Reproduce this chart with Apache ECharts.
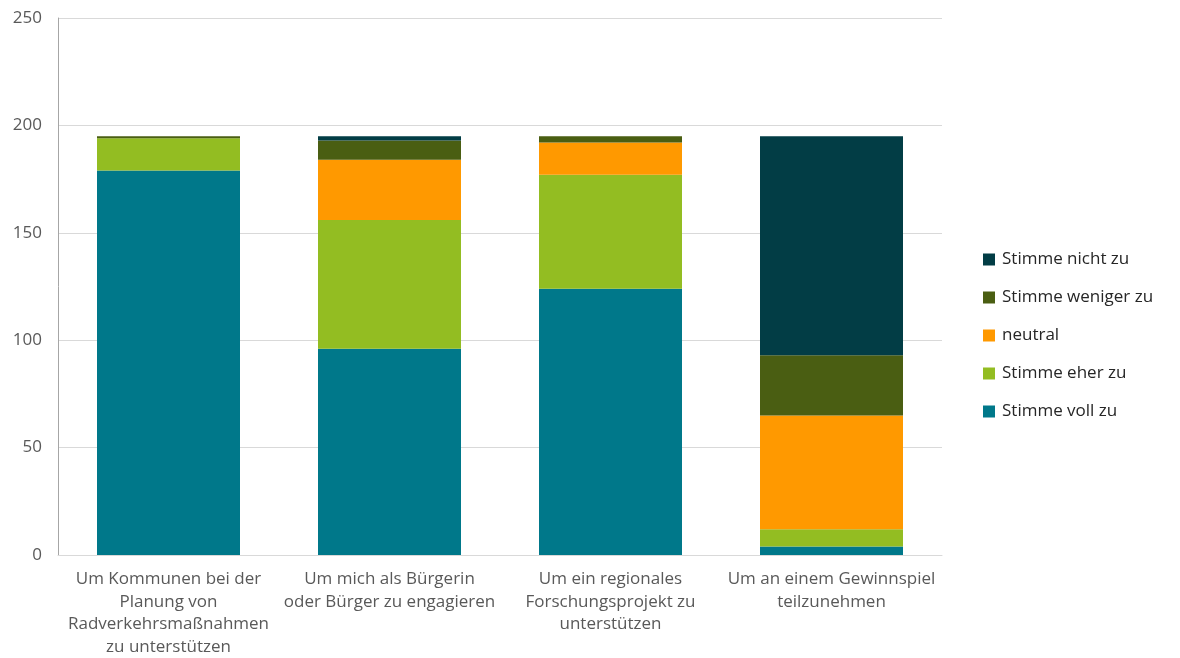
<!DOCTYPE html>
<html>
<head>
<meta charset="utf-8">
<script src="https://cdn.jsdelivr.net/npm/echarts@6/dist/echarts.min.js"></script>
<style>
  html, body { margin: 0; padding: 0; background: #ffffff; }
  #chart { width: 1180px; height: 658px; }
</style>
</head>
<body>
<div id="chart"></div>
<script>
// Motive categories (x axis)
const categories = [
  'Um Kommunen bei der\nPlanung von\nRadverkehrsmaßnahmen\nzu unterstützen',
  'Um mich als Bürgerin\noder Bürger zu engagieren',
  'Um ein regionales\nForschungsprojekt zu\nunterstützen',
  'Um an einem Gewinnspiel\nteilzunehmen'
];

// Answer counts per category, stacked bottom to top
const stimmeVollZu     = [179, 96, 124, 4];
const stimmeEherZu     = [15, 60, 53, 8];
const neutral          = [0, 28, 15, 53];
const stimmeWenigerZu  = [1, 9, 3, 28];
const stimmeNichtZu    = [0, 2, 0, 102];

const yTicks = { min: 0, max: 250, interval: 50 };

const seriesDefs = [
  { name: 'Stimme voll zu',     data: stimmeVollZu,    color: '#00788A' },
  { name: 'Stimme eher zu',     data: stimmeEherZu,    color: '#93BD22' },
  { name: 'neutral',            data: neutral,         color: '#FF9900' },
  { name: 'Stimme weniger zu',  data: stimmeWenigerZu, color: '#4A5E12' },
  { name: 'Stimme nicht zu',    data: stimmeNichtZu,   color: '#023D45' }
];

const chart = echarts.init(document.getElementById('chart'));
const font = '"Open Sans", "Liberation Sans", sans-serif';

chart.setOption({
  animation: false,
  textStyle: { fontFamily: font },
  grid: { left: 58, right: 238, top: 18, bottom: 103, containLabel: false },
  legend: {
    orient: 'vertical',
    left: 978,
    top: 246,
    itemWidth: 12,
    itemHeight: 12,
    itemGap: 21,
    icon: 'rect',
    data: seriesDefs.map(s => s.name).reverse(),
    textStyle: { fontSize: 17, color: '#262626', fontFamily: font, padding: [0, 0, 0, 2] }
  },
  xAxis: {
    type: 'category',
    data: categories,
    axisLine: { lineStyle: { color: '#d9d9d9', width: 1 } },
    axisTick: { show: false },
    axisLabel: {
      interval: 0,
      margin: 13,
      fontSize: 17,
      lineHeight: 22.5,
      color: '#595959',
      fontFamily: font
    }
  },
  yAxis: {
    type: 'value',
    min: yTicks.min,
    max: yTicks.max,
    interval: yTicks.interval,
    axisLine: { show: true, lineStyle: { color: '#a6a6a6', width: 1 } },
    axisTick: { show: false },
    splitLine: { lineStyle: { color: '#d9d9d9', width: 1 } },
    axisLabel: { fontSize: 17, color: '#595959', margin: 16, fontFamily: font }
  },
  series: seriesDefs.map(s => ({
    name: s.name,
    type: 'bar',
    stack: 'total',
    data: s.data,
    barWidth: 143,
    itemStyle: { color: s.color }
  }))
});
</script>
</body>
</html>
